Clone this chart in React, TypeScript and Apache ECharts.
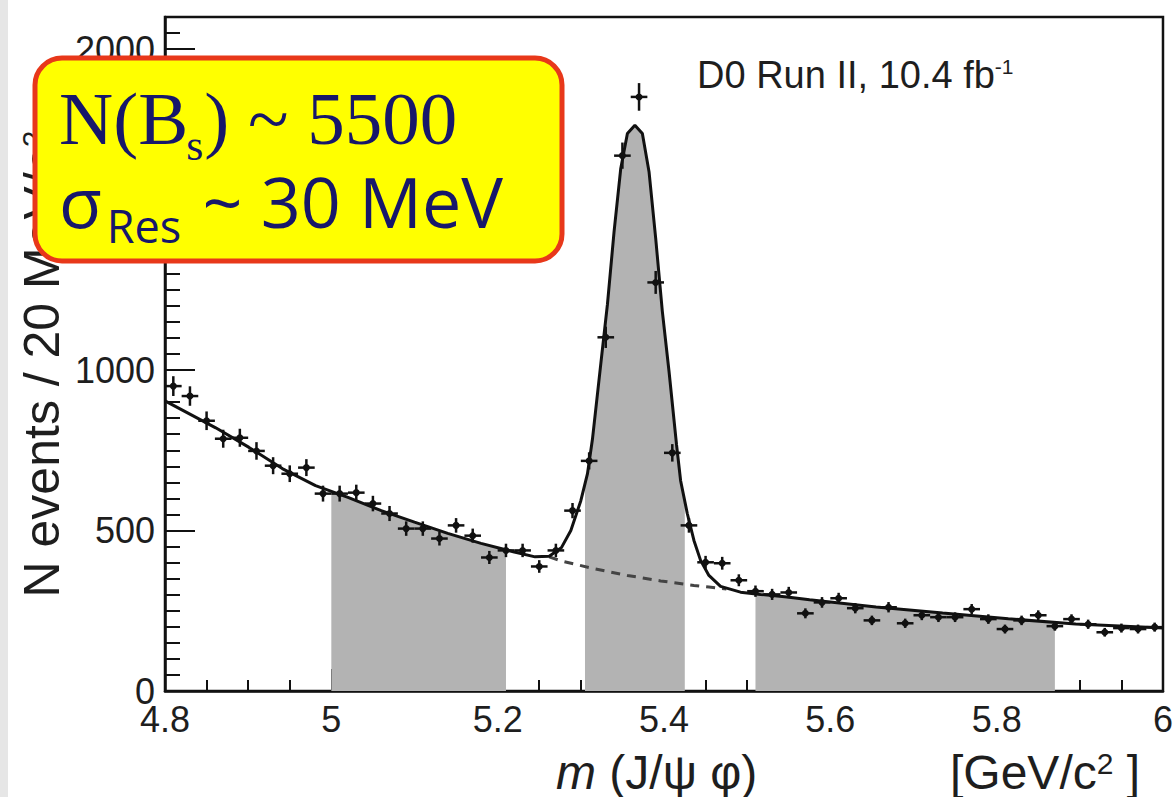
import React, { useEffect, useRef } from 'react';
import * as echarts from 'echarts';

// ---- data ----
const binCenters = [
  4.81, 4.83, 4.85, 4.87, 4.89, 4.91, 4.93, 4.95, 4.97, 4.99,
  5.01, 5.03, 5.05, 5.07, 5.09, 5.11, 5.13, 5.15, 5.17, 5.19,
  5.21, 5.23, 5.25, 5.27, 5.29, 5.31, 5.33, 5.35, 5.37, 5.39,
  5.41, 5.43, 5.45, 5.47, 5.49, 5.51, 5.53, 5.55, 5.57, 5.59,
  5.61, 5.63, 5.65, 5.67, 5.69, 5.71, 5.73, 5.75, 5.77, 5.79,
  5.81, 5.83, 5.85, 5.87, 5.89, 5.91, 5.93, 5.95, 5.97, 5.99,
];
const counts = [
  950, 919, 842, 786, 789, 748, 702, 677, 696, 615,
  615, 618, 584, 553, 506, 506, 475, 516, 484, 416,
  438, 438, 388, 438, 562, 717, 1102, 1668, 1851, 1273,
  742, 516, 401, 398, 345, 311, 301, 307, 242, 276,
  289, 258, 220, 261, 211, 236, 230, 230, 255, 224,
  193, 220, 236, 202, 224, 208, 183, 196, 193, 199,
];
const fitX = [
  4.8, 4.861, 4.901, 4.941, 4.981, 5.02, 5.06, 5.1, 5.14, 5.18,
  5.22, 5.245, 5.262, 5.2765, 5.288, 5.3, 5.308, 5.314, 5.324, 5.332,
  5.34, 5.348, 5.356, 5.365, 5.374, 5.382, 5.39, 5.398, 5.406, 5.415,
  5.42, 5.428, 5.436, 5.444, 5.454, 5.468, 5.492, 5.516, 5.548, 5.575,
  5.655, 5.735, 5.814, 5.895, 5.994, 6.0,
];
const fitY = [
  904, 820, 759, 693, 640, 603, 562, 526, 491, 460,
  433, 418, 420, 446, 500, 593, 677, 785, 1019, 1205,
  1432, 1628, 1737, 1763, 1737, 1618, 1411, 1183, 997, 769,
  655, 553, 469, 407, 360, 326, 308, 301, 293, 284,
  262, 243, 225, 209, 197, 196,
];
const bkgX = [5.262, 5.2765, 5.316, 5.356, 5.396, 5.436, 5.454, 5.475];
const bkgY = [418, 405, 381, 360, 343, 329, 324, 318];
const bandStart = [5.0, 5.305, 5.51];
const bandEnd = [5.21, 5.425, 5.87];
const xTickLabels = ['4.8', '5', '5.2', '5.4', '5.6', '5.8', '6'];
const yTickLabels = ['0', '500', '1000', '1500', '2000'];

const fitAt = (x: number) => {
  for (let i = 0; i < fitX.length - 1; i++) {
    if (x >= fitX[i] && x <= fitX[i + 1]) {
      const t = (x - fitX[i]) / (fitX[i + 1] - fitX[i]);
      return fitY[i] + t * (fitY[i + 1] - fitY[i]);
    }
  }
  return fitY[fitY.length - 1];
};

const measure = (text: string, font: string) => {
  const c = document.createElement('canvas').getContext('2d')!;
  c.font = font;
  return c.measureText(text).width;
};

export default function App() {
  const ref = useRef<HTMLDivElement>(null);
  useEffect(() => {
    document.body.style.margin = '0';
    const chart = echarts.init(ref.current!, null, { renderer: 'svg' });
    const ink = '#111';
    const txt = '#1e1e1e';
    const navy = '#17176a';
    const helv = 'Liberation Sans, Arial, sans-serif';

    const bandSeries = bandStart.map((a, i) => {
      const b = bandEnd[i];
      const pts: number[][] = [[a, fitAt(a)]];
      fitX.forEach((x, j) => {
        if (x > a && x < b) pts.push([x, fitY[j]]);
      });
      pts.push([b, fitAt(b)]);
      return {
        type: 'line',
        data: pts,
        symbol: 'none',
        silent: true,
        lineStyle: { width: 0 },
        areaStyle: { color: '#b3b3b3', opacity: 1 },
        z: 1,
      };
    });

    // box text layout
    const serif = '"Liberation Serif", "Times New Roman", serif';
    const sans2 = '"Open Sans", Lato, sans-serif';
    const bx = 59;
    const w1 = measure('N(B', `75px ${serif}`);
    const ws = measure('s', `44px ${serif}`);
    const wSig = measure('σ', `70px ${sans2}`);
    const wRes = measure('Res', `45px ${sans2}`);

    const option: any = {
      animation: false,
      backgroundColor: '#ffffff',
      grid: {
        left: 165, right: 8, top: 17, bottom: 106,
        show: true, borderColor: ink, borderWidth: 2.5, backgroundColor: 'transparent',
      },
      xAxis: {
        type: 'value', min: 4.8, max: 6.0, interval: 0.2,
        axisLine: { show: true, onZero: false, lineStyle: { color: ink, width: 2.5 } },
        axisTick: { show: true, inside: true, length: 22, lineStyle: { color: ink, width: 2 } },
        minorTick: { show: true, splitNumber: 4, length: 11, lineStyle: { color: ink, width: 2 } },
        splitLine: { show: false },
        minorSplitLine: { show: false },
        axisLabel: {
          fontFamily: helv, fontSize: 36, color: txt, margin: 10,
          formatter: (v: number) => {
            const s = String(Math.round(v * 10) / 10);
            return xTickLabels.includes(s) ? s : '';
          },
        },
      },
      yAxis: {
        type: 'value', min: 0, max: 2100, interval: 500,
        axisLine: { show: true, onZero: false, lineStyle: { color: ink, width: 2.5 } },
        axisTick: { show: true, inside: true, length: 30, lineStyle: { color: ink, width: 2 } },
        minorTick: { show: true, splitNumber: 10, length: 15, lineStyle: { color: ink, width: 2 } },
        splitLine: { show: false },
        minorSplitLine: { show: false },
        axisLabel: {
          fontFamily: helv, fontSize: 36, color: txt, margin: 10,
          formatter: (v: number) => {
            const s = String(Math.round(v));
            return yTickLabels.includes(s) ? s : '';
          },
        },
      },
      series: [
        ...bandSeries,
        {
          type: 'line',
          data: bkgX.map((x, i) => [x, bkgY[i]]),
          symbol: 'none', silent: true,
          lineStyle: { color: '#444', width: 3, type: [9, 7] },
          z: 2,
        },
        {
          type: 'line',
          data: fitX.map((x, i) => [x, fitY[i]]),
          symbol: 'none', silent: true,
          lineStyle: { color: ink, width: 3 },
          z: 3,
        },
        {
          type: 'custom',
          z: 4,
          silent: true,
          dimensions: ['x', 'y'],
          encode: { x: 0, y: 1 },
          data: binCenters.map((x, i) => [x, counts[i]]),
          renderItem: (params: any, api: any) => {
            const x = api.value(0);
            const y = api.value(1);
            const err = Math.sqrt(y);
            const c = api.coord([x, y]);
            const l = api.coord([x - 0.01, y]);
            const r = api.coord([x + 0.01, y]);
            const t = api.coord([x, y + err]);
            const b = api.coord([x, y - err]);
            return {
              type: 'group',
              children: [
                { type: 'line', shape: { x1: l[0], y1: c[1], x2: r[0], y2: c[1] }, style: { stroke: ink, lineWidth: 2.5 } },
                { type: 'line', shape: { x1: c[0], y1: t[1], x2: c[0], y2: b[1] }, style: { stroke: ink, lineWidth: 2.5 } },
                { type: 'circle', shape: { cx: c[0], cy: c[1], r: 3.5 }, style: { fill: ink } },
              ],
            };
          },
        },
      ],
      graphic: [
        { type: 'rect', z: 0, shape: { x: 0, y: 0, width: 8, height: 797 }, style: { fill: '#e6e6e6' } },
        {
          type: 'text', z: 50, x: 42, y: 364, rotation: Math.PI / 2,
          style: {
            text: '{a|N events / 20 MeV/c}{s|2}',
            align: 'center', verticalAlign: 'middle',
            rich: {
              a: { fontSize: 50, fontFamily: helv, fill: txt },
              s: { fontSize: 30, fontFamily: helv, fill: txt, verticalAlign: 'top' },
            },
          },
        },
        {
          type: 'text', z: 50, x: 556, y: 772,
          style: {
            text: '{i|m}{a| (J/ψ φ)}',
            align: 'left', verticalAlign: 'middle',
            rich: {
              i: { fontSize: 48, fontStyle: 'italic', fontFamily: helv, fill: txt },
              a: { fontSize: 48, fontFamily: helv, fill: txt },
            },
          },
        },
        {
          type: 'text', z: 50, x: 950, y: 772,
          style: {
            text: '{a|[GeV/c}{s|2}{a| ]}',
            align: 'left', verticalAlign: 'middle',
            rich: {
              a: { fontSize: 48, fontFamily: helv, fill: txt },
              s: { fontSize: 30, fontFamily: helv, fill: txt, verticalAlign: 'top' },
            },
          },
        },
        {
          type: 'text', z: 50, x: 697, y: 75,
          style: {
            text: '{a|D0 Run II, 10.4 fb}{s|-1}',
            align: 'left', verticalAlign: 'middle',
            rich: {
              a: { fontSize: 38, fontFamily: helv, fill: txt },
              s: { fontSize: 21, fontFamily: helv, fill: txt, verticalAlign: 'top' },
            },
          },
        },
        {
          type: 'rect', z: 100,
          shape: { x: 35, y: 58, width: 527, height: 203, r: 27 },
          style: { fill: '#ffff00', stroke: '#e8381a', lineWidth: 5 },
        },
        {
          type: 'text', z: 101, x: bx, y: 143 - 0.33 * 75,
          style: { text: 'N(B', fontSize: 75, fontFamily: serif, fill: navy, align: 'left', verticalAlign: 'middle' },
        },
        {
          type: 'text', z: 101, x: bx + w1 - 2, y: 160 - 0.33 * 44,
          style: { text: 's', fontSize: 44, fontFamily: serif, fill: navy, align: 'left', verticalAlign: 'middle' },
        },
        {
          type: 'text', z: 101, x: bx + w1 + ws - 1, y: 143 - 0.33 * 75,
          style: { text: ') ~ 5500', fontSize: 75, fontFamily: serif, fill: navy, align: 'left', verticalAlign: 'middle' },
        },
        {
          type: 'text', z: 101, x: bx, y: 226 - 0.36 * 70,
          style: { text: 'σ', fontSize: 70, fontFamily: sans2, fill: navy, align: 'left', verticalAlign: 'middle' },
        },
        {
          type: 'text', z: 101, x: bx + wSig + 5, y: 242 - 0.36 * 45,
          style: { text: 'Res', fontSize: 45, fontFamily: sans2, fill: navy, align: 'left', verticalAlign: 'middle' },
        },
        {
          type: 'text', z: 101, x: bx + wSig + wRes + 8, y: 226 - 0.36 * 70,
          style: { text: ' ~ 30 MeV', fontSize: 70, fontFamily: sans2, fill: navy, align: 'left', verticalAlign: 'middle' },
        },
      ],
    };
    chart.setOption(option);
    return () => chart.dispose();
  }, []);
  return <div ref={ref} style={{ width: 1176, height: 797 }} />;
}
